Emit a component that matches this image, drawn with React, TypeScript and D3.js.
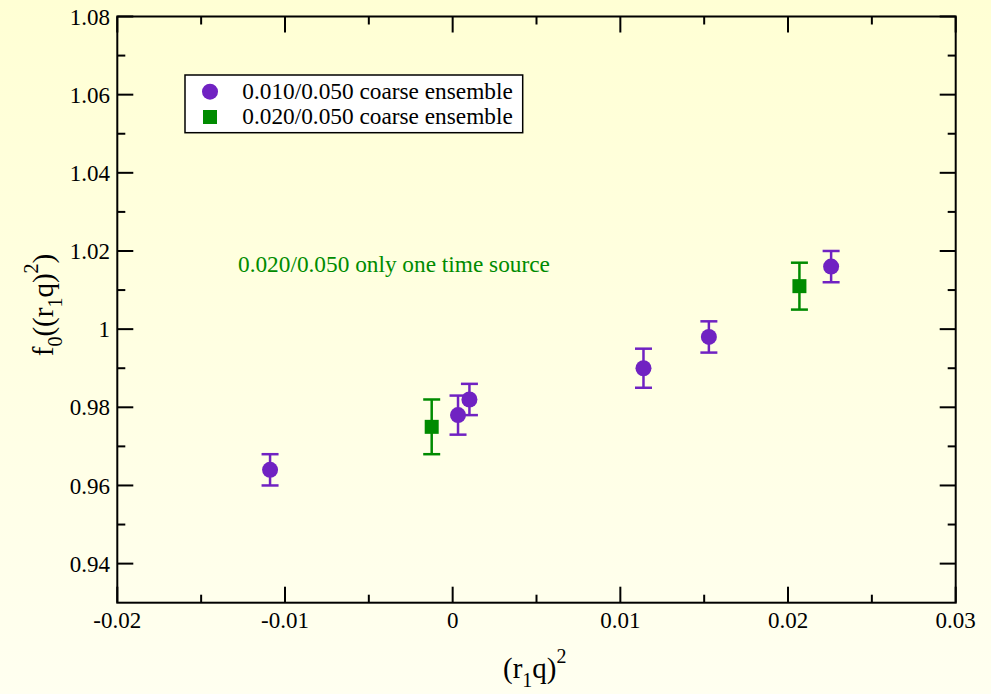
import React from "react";
import * as d3 from "d3";

const series1X = [-0.01089, 0.00032, 0.001, 0.01138, 0.01528, 0.02257];
const series1Y = [0.964, 0.978, 0.982, 0.99, 0.998, 1.016];
const series1Err = [0.004, 0.005, 0.004, 0.005, 0.004, 0.004];

const series2X = [-0.00125, 0.02068];
const series2Y = [0.975, 1.011];
const series2Err = [0.007, 0.006];

const xMajor = [-0.02, -0.01, 0, 0.01, 0.02, 0.03];
const xMinor = [-0.015, -0.005, 0.005, 0.015, 0.025];
const yMajor = [0.94, 0.96, 0.98, 1.0, 1.02, 1.04, 1.06, 1.08];
const yMinor = [0.95, 0.97, 0.99, 1.01, 1.03, 1.05, 1.07];

const legendLabels = ["0.010/0.050 coarse ensemble", "0.020/0.050 coarse ensemble"];
const annotation = "0.020/0.050 only one time source";

const W = 991;
const H = 694;
const L = 117.3, R = 955.7, T = 16.5, B = 602.7;
const PURPLE = "#7022c2";
const GREEN = "#008b00";
const FONT = "'Liberation Serif', 'Times New Roman', serif";

const fmt = (v: number) => String(+v.toFixed(3));

export default function App() {
  const x = d3.scaleLinear().domain([-0.02, 0.03]).range([L, R]);
  const y = d3.scaleLinear().domain([0.93, 1.08]).range([B, T]);
  const capW = 8.5;
  const sq = 14;

  return (
    <svg width={W} height={H} style={{ position: "absolute", left: 0, top: 0, display: "block" }}
      fontFamily={FONT}>
      <defs>
        <linearGradient id="bg" x1="0" y1="0" x2="0" y2="1">
          <stop offset="0" stopColor="#ffffd4" />
          <stop offset="1" stopColor="#fffff0" />
        </linearGradient>
      </defs>
      <rect x={0} y={0} width={W} height={H} fill="url(#bg)" />

      {/* ticks */}
      <g stroke="#000" strokeWidth={2}>
        {xMajor.map((v, i) => (
          <g key={"xm" + i}>
            <line x1={x(v)} x2={x(v)} y1={B} y2={B - 16} />
            <line x1={x(v)} x2={x(v)} y1={T} y2={T + 16} />
          </g>
        ))}
        {xMinor.map((v, i) => (
          <g key={"xn" + i}>
            <line x1={x(v)} x2={x(v)} y1={B} y2={B - 8} />
            <line x1={x(v)} x2={x(v)} y1={T} y2={T + 8} />
          </g>
        ))}
        {yMajor.map((v, i) => (
          <g key={"ym" + i}>
            <line x1={L} x2={L + 16} y1={y(v)} y2={y(v)} />
            <line x1={R} x2={R - 16} y1={y(v)} y2={y(v)} />
          </g>
        ))}
        {yMinor.map((v, i) => (
          <g key={"yn" + i}>
            <line x1={L} x2={L + 8} y1={y(v)} y2={y(v)} />
            <line x1={R} x2={R - 8} y1={y(v)} y2={y(v)} />
          </g>
        ))}
      </g>
      <rect x={L} y={T} width={R - L} height={B - T} fill="none" stroke="#000" strokeWidth={2} />

      {/* tick labels */}
      <g fontSize={23} fill="#000">
        {xMajor.map((v, i) => (
          <text key={"xl" + i} x={x(v)} y={628} textAnchor="middle">{fmt(v)}</text>
        ))}
        {yMajor.map((v, i) => (
          <text key={"yl" + i} x={110} y={y(v)} dy="0.35em" textAnchor="end">{fmt(v)}</text>
        ))}
      </g>

      {/* axis labels */}
      <text x={503} y={678} fontSize={29} fill="#000">
        (r<tspan dy={9} fontSize={20}>1</tspan><tspan dy={-9}>q)</tspan><tspan dy={-15} fontSize={20}>2</tspan>
      </text>
      <text transform={`translate(53,${305}) rotate(-90)`} textAnchor="middle" fontSize={29} fill="#000">
        f<tspan dy={9} fontSize={20}>0</tspan><tspan dy={-9}>((r</tspan><tspan dy={9} fontSize={20}>1</tspan><tspan dy={-9}>q)</tspan><tspan dy={-15} fontSize={20}>2</tspan><tspan dy={15}>)</tspan>
      </text>

      {/* annotation */}
      <text x={238} y={272} fontSize={23.3} fill={GREEN}>{annotation}</text>

      {/* series 1 */}
      <g stroke={PURPLE} strokeWidth={2.5}>
        {series1X.map((v, i) => (
          <g key={"e1" + i}>
            <line x1={x(v)} x2={x(v)} y1={y(series1Y[i] - series1Err[i])} y2={y(series1Y[i] + series1Err[i])} />
            <line x1={x(v) - capW} x2={x(v) + capW} y1={y(series1Y[i] + series1Err[i])} y2={y(series1Y[i] + series1Err[i])} />
            <line x1={x(v) - capW} x2={x(v) + capW} y1={y(series1Y[i] - series1Err[i])} y2={y(series1Y[i] - series1Err[i])} />
          </g>
        ))}
      </g>
      {series1X.map((v, i) => (
        <circle key={"c1" + i} cx={x(v)} cy={y(series1Y[i])} r={8} fill={PURPLE} />
      ))}

      {/* series 2 */}
      <g stroke={GREEN} strokeWidth={2.5}>
        {series2X.map((v, i) => (
          <g key={"e2" + i}>
            <line x1={x(v)} x2={x(v)} y1={y(series2Y[i] - series2Err[i])} y2={y(series2Y[i] + series2Err[i])} />
            <line x1={x(v) - capW} x2={x(v) + capW} y1={y(series2Y[i] + series2Err[i])} y2={y(series2Y[i] + series2Err[i])} />
            <line x1={x(v) - capW} x2={x(v) + capW} y1={y(series2Y[i] - series2Err[i])} y2={y(series2Y[i] - series2Err[i])} />
          </g>
        ))}
      </g>
      {series2X.map((v, i) => (
        <rect key={"s2" + i} x={x(v) - sq / 2} y={y(series2Y[i]) - sq / 2} width={sq} height={sq} fill={GREEN} />
      ))}

      {/* legend */}
      <rect x={185} y={75} width={337.7} height={57.7} fill="#ffffff" stroke="#000" strokeWidth={1.5} />
      <circle cx={210} cy={91.7} r={8} fill={PURPLE} />
      <rect x={210 - 7} y={117 - 7} width={14} height={14} fill={GREEN} />
      <text x={242.3} y={99} fontSize={23.3} fill="#000">{legendLabels[0]}</text>
      <text x={242.3} y={124} fontSize={23.3} fill="#000">{legendLabels[1]}</text>
    </svg>
  );
}
